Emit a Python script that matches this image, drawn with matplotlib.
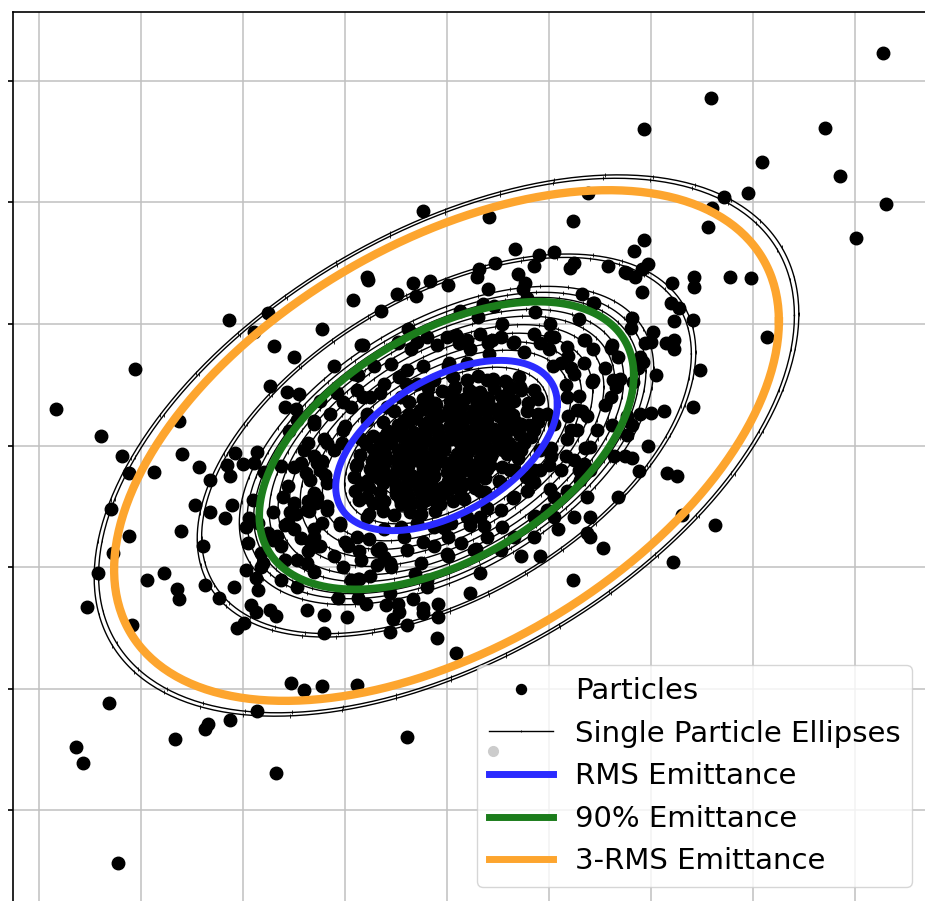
import numpy as np
import matplotlib.pyplot as plt

# Beam second moments (x in mm, x' in mrad)
sig_xx = 1.18
sig_xxp = 0.37
sig_xpxp = 0.49

# Ellipse sizes in units of the rms ellipse
rms_scale = 1.0
pct90_scale = 1.69
three_rms_scale = 3.0
single_scales = [0.35, 0.5, 0.62, 0.78, 0.92, 1.12, 1.22, 1.32, 1.42, 1.52,
                 1.6, 1.74, 1.8, 1.87, 2.21, 2.25, 3.14, 3.18]

# Particle coordinates (x, x')
core = np.array([
    (0.05, 0.41), (0.17, 0.38), (0.30, 0.42), (0.41, 0.39), (0.53, 0.41),
    (-0.22, 0.30), (-0.10, 0.33), (0.02, 0.30), (0.13, 0.32), (0.26, 0.29),
    (0.36, 0.33), (0.49, 0.30), (0.60, 0.31),
    (-0.42, 0.21), (-0.30, 0.23), (-0.17, 0.20), (-0.06, 0.24), (0.05, 0.21),
    (0.17, 0.23), (0.28, 0.20), (0.40, 0.22), (0.51, 0.24), (0.63, 0.21),
    (-0.57, 0.12), (-0.45, 0.14), (-0.33, 0.11), (-0.21, 0.14), (-0.09, 0.12),
    (0.02, 0.15), (0.13, 0.12), (0.25, 0.13), (0.36, 0.11), (0.47, 0.14),
    (0.58, 0.12), (0.69, 0.13),
    (-0.66, 0.05), (-0.54, 0.03), (-0.42, 0.06), (-0.30, 0.03), (-0.19, 0.05),
    (-0.07, 0.02), (0.04, 0.05), (0.16, 0.03), (0.27, 0.06), (0.38, 0.03),
    (0.50, 0.05), (0.61, 0.02),
    (-0.71, -0.04), (-0.60, -0.07), (-0.48, -0.04), (-0.36, -0.06), (-0.25, -0.03),
    (-0.13, -0.06), (-0.02, -0.04), (0.10, -0.07), (0.21, -0.05), (0.33, -0.03),
    (0.44, -0.06), (0.55, -0.04),
    (-0.73, -0.13), (-0.61, -0.15), (-0.50, -0.12), (-0.38, -0.15), (-0.27, -0.13),
    (-0.15, -0.16), (-0.04, -0.13), (0.08, -0.15), (0.19, -0.12), (0.31, -0.14),
    (0.43, -0.16),
    (-0.70, -0.22), (-0.58, -0.24), (-0.46, -0.21), (-0.35, -0.24), (-0.23, -0.22),
    (-0.12, -0.25), (0.00, -0.22), (0.11, -0.24), (0.23, -0.21), (0.33, -0.23),
    (-0.62, -0.31), (-0.50, -0.33), (-0.38, -0.30), (-0.27, -0.33), (-0.15, -0.31),
    (-0.03, -0.34), (0.09, -0.31), (0.18, -0.32),
    (-0.50, -0.40), (-0.38, -0.42), (-0.26, -0.39), (-0.14, -0.42), (-0.03, -0.40),
])

inner = np.array([
    (0.06, 0.56), (0.20, 0.54), (0.31, 0.57), (0.46, 0.55), (0.57, 0.53), (0.71, 0.56),
    (-0.18, 0.47), (-0.04, 0.45), (0.08, 0.48), (0.22, 0.46), (0.33, 0.44),
    (0.47, 0.47), (0.61, 0.45), (0.72, 0.48), (0.86, 0.46),
    (-0.37, 0.36), (-0.23, 0.38), (-0.11, 0.35), (0.03, 0.37), (0.15, 0.35),
    (0.29, 0.38), (0.41, 0.36), (0.55, 0.34), (0.66, 0.37), (0.80, 0.35), (0.90, 0.38),
    (-0.51, 0.28), (-0.37, 0.26), (-0.26, 0.29), (-0.12, 0.27), (0.02, 0.25),
    (0.13, 0.28), (0.28, 0.26), (0.39, 0.29), (0.54, 0.27), (0.65, 0.25),
    (0.79, 0.28), (0.90, 0.26),
    (-0.62, 0.19), (-0.48, 0.17), (-0.37, 0.20), (-0.22, 0.18), (-0.10, 0.16),
    (0.04, 0.19), (0.15, 0.17), (0.30, 0.19), (0.41, 0.16), (0.56, 0.18),
    (0.67, 0.20), (0.81, 0.17), (0.90, 0.19),
    (-0.72, 0.08), (-0.58, 0.10), (-0.47, 0.09), (-0.32, 0.07), (-0.21, 0.10),
    (-0.06, 0.08), (0.05, 0.10), (0.20, 0.09), (0.31, 0.07), (0.46, 0.10),
    (0.57, 0.08), (0.72, 0.09), (0.83, 0.07),
    (-0.79, 0.01), (-0.65, -0.01), (-0.54, 0.02), (-0.39, 0.00), (-0.28, -0.02),
    (-0.13, 0.01), (-0.02, -0.01), (0.13, 0.02), (0.24, 0.00), (0.39, -0.02),
    (0.50, 0.01), (0.65, -0.01), (0.76, 0.02),
    (-0.85, -0.08), (-0.71, -0.10), (-0.60, -0.09), (-0.45, -0.11), (-0.34, -0.08),
    (-0.19, -0.10), (-0.08, -0.09), (0.07, -0.11), (0.18, -0.08), (0.33, -0.10),
    (0.44, -0.09), (0.59, -0.07), (0.70, -0.10),
    (-0.89, -0.17), (-0.75, -0.19), (-0.64, -0.18), (-0.49, -0.20), (-0.38, -0.17),
    (-0.23, -0.19), (-0.12, -0.18), (0.03, -0.16), (0.14, -0.19), (0.29, -0.17),
    (0.40, -0.19), (0.54, -0.18), (0.62, -0.20),
    (-0.91, -0.26), (-0.77, -0.28), (-0.66, -0.27), (-0.51, -0.29), (-0.40, -0.26),
    (-0.25, -0.28), (-0.14, -0.27), (0.01, -0.29), (0.12, -0.26), (0.27, -0.28),
    (0.38, -0.27), (0.51, -0.29),
    (-0.90, -0.37), (-0.76, -0.35), (-0.65, -0.38), (-0.50, -0.36), (-0.39, -0.37),
    (-0.24, -0.35), (-0.13, -0.38), (0.02, -0.36), (0.13, -0.37), (0.28, -0.35),
    (0.38, -0.38),
    (-0.86, -0.45), (-0.72, -0.47), (-0.61, -0.46), (-0.46, -0.44), (-0.35, -0.47),
    (-0.20, -0.45), (-0.09, -0.47), (0.06, -0.46), (0.17, -0.44),
    (-0.76, -0.56), (-0.62, -0.54), (-0.51, -0.57), (-0.36, -0.55), (-0.25, -0.56),
    (-0.11, -0.54),
])

ring = np.array([
    (-0.84, 0.83), (-0.48, 0.84), (-0.35, 0.79), (-0.19, 0.89), (-0.09, 0.83),
    (0.09, 0.91), (0.20, 0.87), (0.33, 0.92), (0.41, 0.84), (0.53, 0.89),
    (0.66, 0.85), (0.86, 0.92), (0.92, 0.84), (1.05, 0.89), (1.18, 0.81),
    (1.35, 0.87), (1.44, 0.79), (-1.10, 0.65), (-0.91, 0.59), (-0.71, 0.65),
    (-0.61, 0.51), (-0.39, 0.62), (-0.29, 0.51), (-0.12, 0.54), (0.01, 0.65),
    (0.20, 0.68), (1.12, 0.68), (1.25, 0.59), (1.35, 0.68), (1.44, 0.54),
    (1.18, 0.40), (1.28, 0.29), (1.38, 0.24), (1.48, 0.13), (1.28, 0.13),
    (1.41, -0.01), (1.18, 0.05), (1.05, 0.18), (1.02, -0.09), (0.92, -0.20),
    (0.82, -0.28), (1.12, -0.20), (1.25, -0.12), (1.35, -0.15), (1.41, -0.20),
    (1.31, -0.28), (1.18, -0.37), (1.38, -0.42), (1.05, -0.42), (0.99, -0.53),
    (0.86, -0.59), (1.05, -0.59), (1.25, -0.59), (1.38, -0.72), (1.09, -0.69),
    (0.86, -0.75), (0.66, -0.75), (0.92, -0.91), (0.73, -0.91), (0.53, -0.86),
    (0.40, -0.75), (0.27, -0.86), (0.14, -0.80), (0.01, -0.91), (-0.12, -0.83),
    (-0.25, -0.97), (-0.39, -0.86), (-0.55, -0.97), (-0.68, -0.86), (-0.84, -0.94),
    (-0.97, -0.83), (-1.10, -0.91), (-1.24, -0.83), (-1.37, -0.97), (-1.30, -0.69),
    (-1.37, -0.53), (-1.27, -0.42), (-1.17, -0.31), (-1.24, -0.20), (-1.30, -0.09),
    (-1.20, 0.05), (-1.30, 0.18), (-1.14, 0.26), (-1.24, 0.37), (-1.07, 0.43),
    (-0.94, 0.32), (-1.01, 0.13), (-0.88, 0.46), (-0.75, 0.40), (-1.10, -0.04),
    (-1.17, -0.53), (-1.04, -0.64), (-0.88, -0.75), (-0.78, -0.59), (-0.61, -0.69),
    (-0.45, -0.67), (-0.29, -0.64), (-0.12, -0.67), (0.04, -0.64), (0.20, -0.59),
    (0.33, -0.59), (0.53, -0.53), (0.66, -0.42), (0.79, -0.37), (0.86, -0.20),
    (0.92, -0.04), (0.86, 0.13), (0.99, 0.26), (0.89, 0.40), (0.73, 0.46),
    (0.60, 0.51), (0.40, 0.54), (0.27, 0.43), (0.07, 0.46), (-0.19, 0.40),
    (-0.45, 0.40), (-0.58, 0.32), (-0.78, 0.21), (-0.84, 0.05), (-0.88, -0.15),
    (-0.84, -0.31), (-0.78, -0.42), (-0.65, -0.48), (-0.45, -0.48), (-0.25, -0.48),
    (-0.06, -0.48), (0.14, -0.42), (0.33, -0.37), (0.53, -0.31), (0.66, -0.20),
    (0.73, -0.04), (0.73, 0.18), (0.60, 0.35),
    (1.30, 0.41), (1.22, 0.64), (1.00, 0.79), (0.65, 0.84), (0.23, 0.79),
    (-0.23, 0.65), (-0.65, 0.43), (-1.00, 0.16), (-1.22, -0.13), (-1.30, -0.41),
    (-1.22, -0.64), (-1.00, -0.79), (-0.65, -0.84), (-0.23, -0.79), (0.23, -0.65),
    (0.65, -0.43), (1.00, -0.16), (1.22, 0.13),
    (1.55, 0.64), (1.36, 0.87), (1.01, 1.00), (0.54, 1.00), (0.00, 0.89),
    (-0.54, 0.67), (-1.01, 0.36), (-1.36, 0.02), (-1.55, -0.33), (-1.55, -0.64),
    (-1.36, -0.87), (-1.01, -1.00), (-0.54, -1.00), (0.00, -0.89), (0.54, -0.67),
    (1.01, -0.36), (1.36, -0.02), (1.55, 0.33),
    (1.43, 0.52), (1.01, 0.89), (0.12, 0.84), (-0.82, 0.40), (-1.38, -0.23),
    (-1.30, -0.75), (-0.61, -0.92), (0.37, -0.66), (1.17, -0.09),
    (1.17, 0.50), (1.04, 0.65), (0.76, 0.77), (0.42, 0.75), (0.02, 0.68),
    (-0.40, 0.51), (-0.78, 0.26), (-1.02, 0.02), (-1.19, -0.24), (-1.17, -0.50),
    (-1.04, -0.65), (-0.76, -0.77), (-0.42, -0.75), (-0.02, -0.68), (0.40, -0.51),
    (0.78, -0.26), (1.02, -0.02), (1.19, 0.24),
    (1.70, 0.55), (1.62, 0.83), (1.30, 1.04), (0.87, 1.10), (0.31, 1.06),
    (-0.29, 0.85), (-0.87, 0.58), (-1.30, 0.20), (-1.62, -0.17), (-1.70, -0.55),
    (-1.62, -0.83), (-1.30, -1.04), (-0.87, -1.10), (-0.31, -1.06), (0.29, -0.85),
    (0.87, -0.58), (1.30, -0.20), (1.62, 0.17),
    (1.19, 0.74), (0.45, 0.87), (-0.47, 0.56), (-1.17, 0.02), (-1.35, -0.54),
    (-0.86, -0.87), (0.01, -0.75), (0.86, -0.30), (1.33, 0.28),
])

halo = np.array([
    (4.28, 3.23), (2.59, 2.86), (1.94, 2.60), (3.71, 2.61), (3.09, 2.33),
    (3.86, 2.22), (2.96, 2.08), (2.72, 2.04), (2.60, 1.95), (4.31, 1.99),
    (2.56, 1.80), (4.01, 1.71), (1.94, 1.69), (1.84, 1.60), (1.98, 1.49),
    (1.92, 1.45), (1.77, 1.42), (1.85, 1.39), (2.21, 1.34), (2.43, 1.39),
    (2.43, 1.30), (2.78, 1.39), (2.99, 1.38), (1.92, 1.26), (2.20, 1.17),
    (2.28, 1.13), (1.45, 1.17), (1.82, 1.05), (1.81, 0.97), (2.23, 1.02),
    (2.42, 1.03), (3.14, 0.89), (2.02, 0.93), (2.15, 0.84), (2.23, 0.87),
    (2.23, 0.79), (1.95, 0.84), (2.00, 0.85), (1.90, 0.73), (1.93, 0.69),
    (1.88, 0.64), (2.05, 0.58), (2.49, 0.62), (1.83, 0.52), (1.61, 0.80),
    (1.68, 0.73), (1.63, 0.54), (1.66, 0.48), (1.61, 0.40), (2.42, 0.32),
    (2.13, 0.28), (1.90, 0.26), (2.00, 0.27), (1.77, 0.24), (1.82, 0.17),
    (1.77, 0.09), (1.98, 0.00), (1.64, -0.09), (1.75, -0.09), (1.82, -0.10),
    (1.89, -0.21), (2.16, -0.23), (2.26, -0.25), (1.68, -0.42), (2.31, -0.57),
    (2.63, -0.65), (1.53, -0.84), (2.22, -0.96), (1.41, -0.59), (1.41, -0.75),
    (1.24, -1.11),
    (-0.23, 1.93), (0.42, 1.88), (1.39, 2.08), (1.24, 1.85), (0.67, 1.62),
    (0.91, 1.57), (1.05, 1.59), (0.48, 1.50), (0.32, 1.45), (0.30, 1.39),
    (0.86, 1.48), (1.25, 1.50), (1.21, 1.46), (1.58, 1.48), (1.75, 1.43),
    (-0.77, 1.36), (-0.78, 1.39), (-0.33, 1.34), (-0.16, 1.35), (0.01, 1.32),
    (0.70, 1.41), (0.77, 1.34), (0.75, 1.29), (0.41, 1.29), (-0.92, 1.20),
    (-0.49, 1.25), (-0.30, 1.23), (-0.64, 1.11), (1.33, 1.25), (1.44, 1.17),
    (0.79, 1.21), (0.36, 1.16), (0.47, 1.15), (0.13, 1.11), (-1.22, 0.96),
    (-0.38, 0.96), (-0.82, 0.83), (-0.48, 0.85), (-2.13, 1.03), (-1.75, 1.09),
    (-1.89, 0.93), (-1.69, 0.82), (-1.50, 0.73), (-3.05, 0.63), (-1.73, 0.49),
    (-3.83, 0.30), (-1.56, 0.44), (-1.45, 0.42), (-1.58, 0.32), (-1.48, 0.30),
    (-2.62, 0.20), (-1.47, 0.21), (-3.39, 0.08), (-1.54, 0.12), (-3.18, -0.09),
    (-2.59, -0.07), (-2.07, -0.06), (-1.86, -0.05), (-2.43, -0.18), (-2.15, -0.16),
    (-2.00, -0.15), (-1.89, -0.14), (-3.11, -0.23), (-2.87, -0.22), (-2.32, -0.28),
    (-2.12, -0.25), (-1.79, -0.22), (-3.29, -0.52), (-2.47, -0.49), (-2.32, -0.55),
    (-2.10, -0.49), (-2.17, -0.60), (-1.90, -0.45), (-1.94, -0.60), (-1.97, -0.67),
    (-1.85, -0.64), (-2.60, -0.70), (-3.11, -0.74), (-2.39, -0.83), (-1.95, -0.80),
    (-3.27, -0.88), (-1.82, -0.88), (-1.80, -0.97), (-3.42, -1.05), (-2.77, -1.05),
    (-2.94, -1.11), (-1.97, -1.02), (-1.87, -1.09), (-1.85, -1.19), (-2.37, -1.15),
    (-2.08, -1.16), (-2.64, -1.18), (-2.62, -1.26), (-2.23, -1.25), (-3.52, -1.33),
    (-1.92, -1.31), (-1.87, -1.37), (-1.73, -1.35), (-1.67, -1.40), (-3.08, -1.48),
    (-1.99, -1.46), (-2.05, -1.50), (-1.62, -1.11), (-1.47, -1.16), (-1.37, -1.35),
    (-1.58, -0.94), (-1.47, -0.94), (-1.60, -0.42), (-1.50, -0.47), (-1.36, -0.46),
    (-1.28, -0.47), (-1.30, -0.39), (-1.53, -0.55), (-1.48, -0.56), (-1.58, -0.65),
    (-1.50, -0.69), (-1.43, -0.76), (-1.33, -0.80), (-1.26, -0.83), (-1.66, -0.74),
    (-1.75, -0.72), (-1.70, -0.78), (-1.43, -0.14), (-1.40, -0.04), (-1.27, -0.14),
    (-1.34, -0.28), (-1.50, -0.18), (-1.82, -1.00),
    (-1.20, -1.39), (-0.98, -1.41), (-1.20, -1.54), (-1.06, -1.25), (-0.87, -1.25),
    (-0.79, -1.30), (-0.94, -1.11), (-0.86, -1.10), (-0.75, -1.07), (-0.68, -0.98),
    (-0.59, -1.31), (-0.55, -1.21), (-0.48, -1.30), (-0.47, -1.37), (-0.52, -1.43),
    (-0.55, -1.53), (-0.39, -1.48), (-0.33, -1.26), (-0.23, -1.34), (-0.23, -1.38),
    (-0.08, -1.30), (-0.08, -1.41), (-0.09, -1.58), (-0.19, -1.11), (-0.19, -1.16),
    (0.23, -1.21), (0.33, -1.05), (0.09, -1.71), (-1.52, -1.95), (-1.40, -2.01),
    (-1.22, -1.98), (-0.88, -1.97), (-1.86, -2.18), (-2.12, -2.26), (-2.34, -2.29),
    (-2.37, -2.33), (-2.66, -2.41), (-0.39, -2.40), (-1.67, -2.69), (-3.31, -2.12),
    (-3.63, -2.48), (-3.56, -2.61), (-3.22, -3.43),
])

particles = np.vstack([core, inner, ring, halo])
cov = np.array([[sig_xx, sig_xxp], [sig_xxp, sig_xpxp]])
chol = np.linalg.cholesky(cov)


def ellipse(scale, n=360):
    t = np.linspace(0, 2 * np.pi, n)
    pts = scale * chol @ np.vstack([np.cos(t), np.sin(t)])
    return pts[0], pts[1]


fig = plt.figure(figsize=(9.25, 9.01), dpi=100)
ax = fig.add_axes([13 / 925, -0.0208, 923.1 / 925, 907.7 / 901])

ax.plot(particles[:, 0], particles[:, 1], 'o', color='black', ms=9,
        ls='none', label='Particles', zorder=2)

for i, s in enumerate(single_scales):
    ex, ey = ellipse(s)
    ax.plot(ex, ey, color='black', lw=1.0, marker='|', ms=2.5, mew=0.6,
            markevery=9, zorder=3,
            label='Single Particle Ellipses' if i == 0 else None)

for s, c, lw, name in [(rms_scale, '#2b2bff', 5, 'RMS Emittance'),
                       (pct90_scale, '#1c7d1c', 5.5, '90% Emittance'),
                       (three_rms_scale, '#fda52e', 6, '3-RMS Emittance')]:
    ex, ey = ellipse(s)
    ax.plot(ex, ey, color=c, lw=lw, label=name, zorder=4)

ax.set_xlim(-4.25, 4.8)
ax.set_ylim(-3.9, 3.565)
ax.set_xticks(np.arange(-4, 5))
ax.set_yticks(np.arange(-3, 4))
ax.tick_params(labelleft=False, labelbottom=False, width=1.2)
ax.grid(True, color='#c0c0c0', lw=1.1)
for sp in ax.spines.values():
    sp.set_linewidth(1.2)

leg = ax.legend(loc='lower right', bbox_to_anchor=(912 / 925, 14 / 901),
                bbox_transform=fig.transFigure, fontsize=21, handlelength=2.2,
                handletextpad=0.75, borderaxespad=0, markerscale=0.8)
for h in leg.get_lines()[2:]:
    h.set_linewidth(5)
ax.plot([493 / 925], [1 - 751 / 901], 'o', color='#cccccc', ms=7,
        transform=fig.transFigure, clip_on=False, zorder=6)

fig.savefig('out.png', dpi=100)
